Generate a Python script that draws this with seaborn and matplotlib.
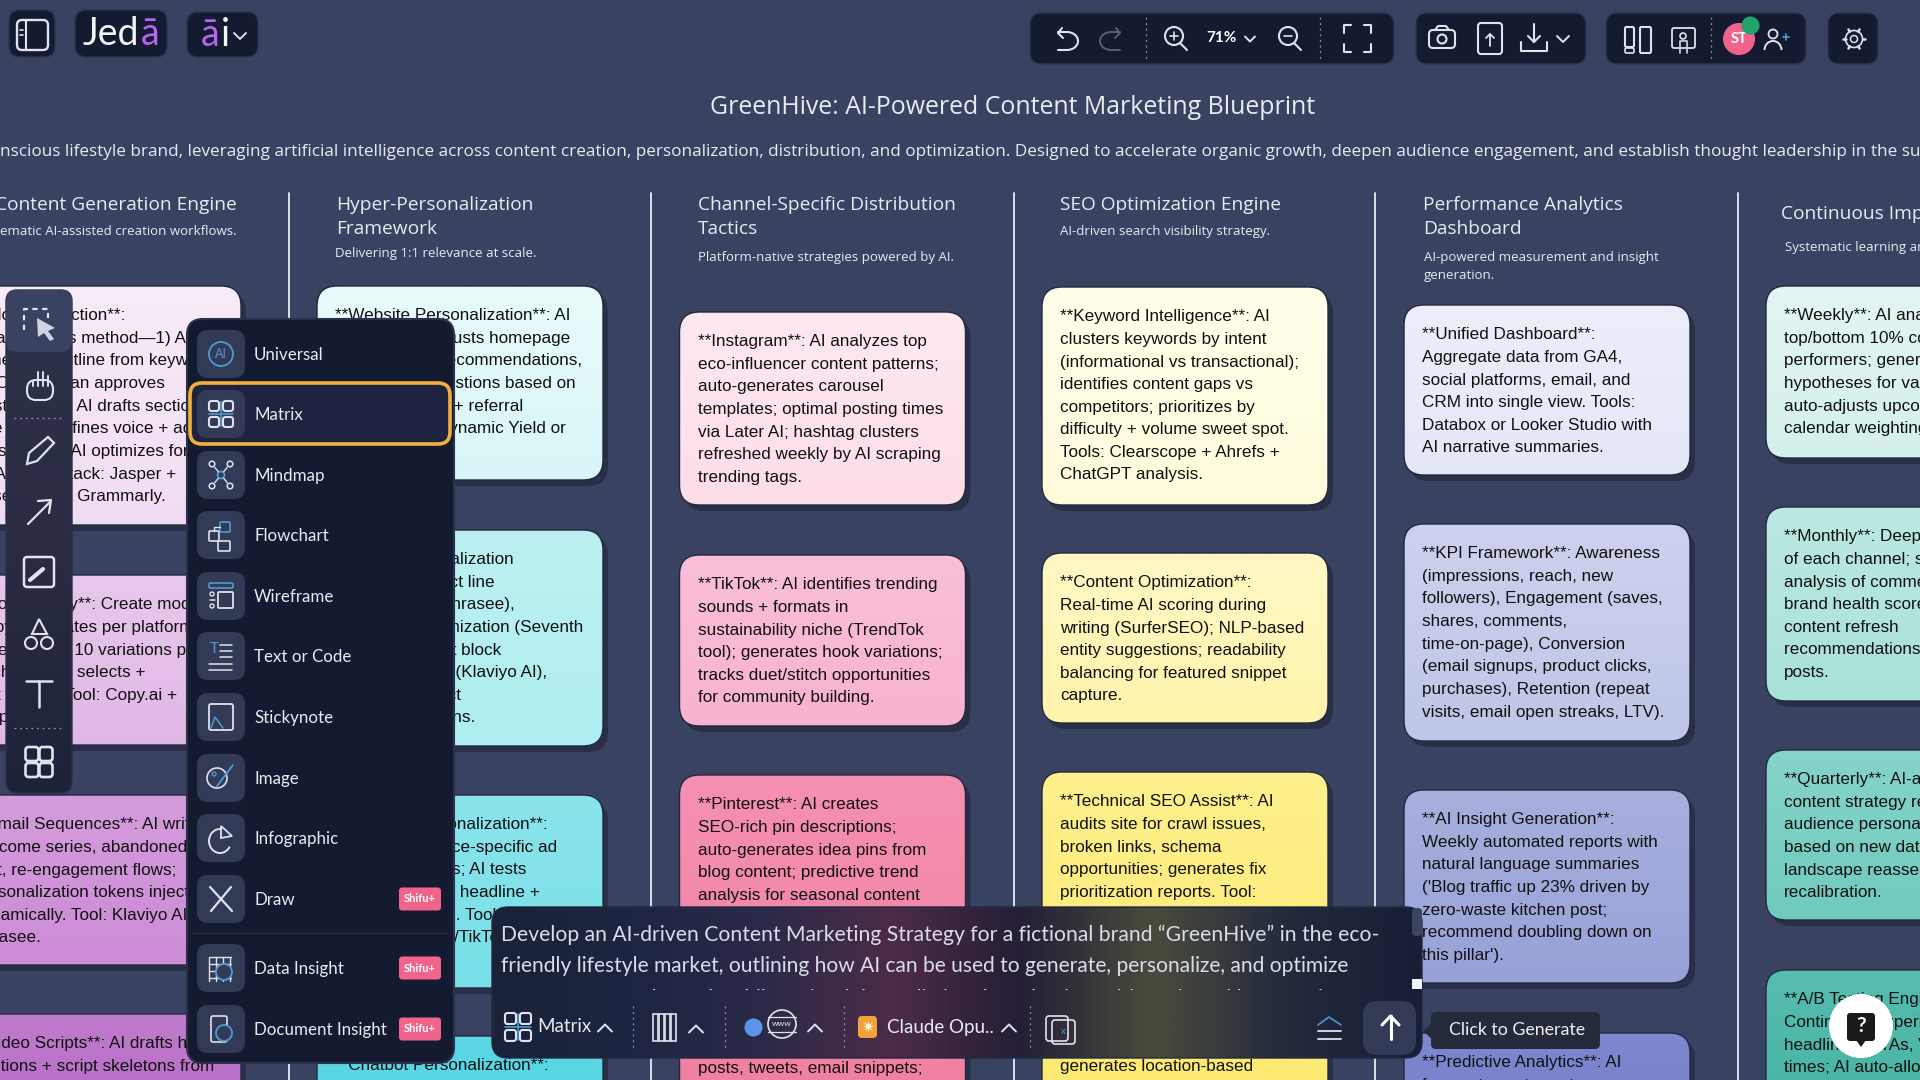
import matplotlib
matplotlib.use("Agg")
import matplotlib.pyplot as plt
import numpy as np
import seaborn as sns
from matplotlib.colors import to_rgb
from matplotlib.patches import Arc, Circle, FancyBboxPatch, Polygon, Rectangle

sns.set_theme(style="white")
plt.rcParams["patch.force_edgecolor"] = False

# ==========================================
# TEXT AND COLOURS
# ==========================================
BG = "#394260"
PANEL = "#141a30"
TILE = "#333a55"
ICON = "#dfe3ee"
BLUE = "#4d9ad6"
PINK = "#f0648c"

TITLE = "GreenHive: AI-Powered Content Marketing Blueprint"
SUBTITLE = (
    "nscious lifestyle brand, leveraging artificial intelligence across content creation, "
    "personalization, distribution, and optimization. Designed to accelerate organic growth, "
    "deepen audience engagement, and establish thought leadership in the sustainable living space."
)

COLUMN_HEADERS = [
    ["Content Generation Engine"],
    ["Hyper-Personalization", "Framework"],
    ["Channel-Specific Distribution", "Tactics"],
    ["SEO Optimization Engine"],
    ["Performance Analytics", "Dashboard"],
    ["Continuous Improvement Loop"],
]
COLUMN_NOTES = [
    ["Systematic AI-assisted creation workflows."],
    ["Delivering 1:1 relevance at scale."],
    ["Platform-native strategies powered by AI."],
    ["AI-driven search visibility strategy."],
    ["AI-powered measurement and insight", "generation."],
    ["Systematic learning and adaptation."],
]

PILLAR_0 = [
    ["**Blog Production**:", "Pillar-clusters method—1) AI", "generates outline from keywords;",
     "SEO fit; human approves", "Post sign-off; AI drafts sections;", "The Editor refines voice + adds",
     "personal tip; AI optimizes for", "CTAs. Tool stack: Jasper +", "frase.io, then Grammarly."],
    ["**Social Copy**: Create moderate", "Copy: templates per platform;", "regenerating 10 variations per",
     "each post; AI selects +", "test winner. Tool: Copy.ai +", "Jasper."],
    ["**Email Sequences**: AI writes", "welcome series, abandoned", "cart, re-engagement flows;",
     "personalization tokens injected", "dynamically. Tool: Klaviyo AI +", "Phrasee."],
    ["**Video Scripts**: AI drafts hooks", "captions + script skeletons from"],
]
PILLAR_1 = [
    ["**Website Personalization**: AI", "dynamically adjusts homepage", "hero, product recommendations,",
     "plus blog suggestions based on", "visitor histories + referral", "source. Tool: Dynamic Yield or",
     "Optimonk."],
    ["**Email Personalization", "**: Smart subject line", "AI variations (Phrasee),",
     "Send-time optimization (Seventh", "Sense); product block", "personalization (Klaviyo AI),",
     "dynamic product", "recommendations."],
    ["**Paid Ad Personalization**:", "Creates audience-specific ad", "creative variants; AI tests",
     "combinations of headline +", "image creatives. Tool: Madgicx", "(Meta + Google/TikTok) with creative AI."],
    ["**Chatbot Personalization**:"],
]
PILLAR_2 = [
    ["**Instagram**: AI analyzes top", "eco-influencer content patterns;", "auto-generates carousel",
     "templates; optimal posting times", "via Later AI; hashtag clusters", "refreshed weekly by AI scraping",
     "trending tags."],
    ["**TikTok**: AI identifies trending", "sounds + formats in", "sustainability niche (TrendTok",
     "tool); generates hook variations;", "tracks duet/stitch opportunities", "for community building."],
    ["**Pinterest**: AI creates", "SEO-rich pin descriptions;", "auto-generates idea pins from",
     "blog content; predictive trend", "analysis for seasonal content"],
]
PILLAR_3 = [
    ["**Keyword Intelligence**: AI", "clusters keywords by intent", "(informational vs transactional);",
     "identifies content gaps vs", "competitors; prioritizes by", "difficulty + volume sweet spot.",
     "Tools: Clearscope + Ahrefs +", "ChatGPT analysis."],
    ["**Content Optimization**:", "Real-time AI scoring during", "writing (SurferSEO); NLP-based",
     "entity suggestions; readability", "balancing for featured snippet", "capture."],
    ["**Technical SEO Assist**: AI", "audits site for crawl issues,", "broken links, schema",
     "opportunities; generates fix", "prioritization reports. Tool:"],
]
PILLAR_4 = [
    ["**Unified Dashboard**:", "Aggregate data from GA4,", "social platforms, email, and",
     "CRM into single view. Tools:", "Databox or Looker Studio with", "AI narrative summaries."],
    ["**KPI Framework**: Awareness", "(impressions, reach, new", "followers), Engagement (saves,",
     "shares, comments,", "time-on-page), Conversion", "(email signups, product clicks,",
     "purchases), Retention (repeat", "visits, email open streaks, LTV)."],
    ["**AI Insight Generation**:", "Weekly automated reports with", "natural language summaries",
     "('Blog traffic up 23% driven by", "zero-waste kitchen post;", "recommend doubling down on",
     "this pillar')."],
    ["**Predictive Analytics**: AI", "forecasts next-quarter"],
]
PILLAR_5 = [
    ["**Weekly**: AI analyzes", "top/bottom 10% content", "performers; generates",
     "hypotheses for variation;", "auto-adjusts upcoming", "calendar weighting."],
    ["**Monthly**: Deep dive", "of each channel; sentiment", "analysis of comments;",
     "brand health score;", "content refresh", "recommendations for top", "posts."],
    ["**Quarterly**: AI-assisted", "content strategy review;", "audience persona updates",
     "based on new data;", "landscape reassessment;", "recalibration."],
    ["**A/B Testing Engine**:", "Continuous experiments on", "headlines, CTAs, Visuals. As,",
     "times; AI auto-allocates"],
]
PILLARS = [PILLAR_0, PILLAR_1, PILLAR_2, PILLAR_3, PILLAR_4, PILLAR_5]

# top and bottom shade of every card
CARD_SHADES = [
    [("#f8ecf8", "#f0dcf2"), ("#e8c8ec", "#e0b8e6"), ("#d49cdc", "#cc8cd6"), ("#c07ccc", "#b060c4")],
    [("#e9fbfb", "#d8f6f7"), ("#bcf0f2", "#aeeef0"), ("#8ae4ec", "#78dfe8"), ("#5cd8e6", "#4cd0e0")],
    [("#fee9ee", "#fddde6"), ("#fabfd8", "#f8b2d0"), ("#f590b0", "#f07c9e")],
    [("#ffffea", "#fffcdc"), ("#fef8c4", "#fef4ac"), ("#fef08c", "#fde86a")],
    [("#eceefa", "#e4e7f6"), ("#cdd1ee", "#bfc6e6"), ("#a8afdd", "#98a2d8"), ("#7d88cf", "#6e7ac8")],
    [("#e4f5f2", "#d4f0ea"), ("#bce9e2", "#a8e1d8"), ("#86d4ca", "#70cabd"), ("#56bdaf", "#40ae9f")],
]

MENU_LABELS = ["Universal", "Matrix", "Mindmap", "Flowchart", "Wireframe", "Text or Code",
               "Stickynote", "Image", "Infographic", "Draw", "Data Insight", "Document Insight"]
SHIFU_LABELS = ["Draw", "Data Insight", "Document Insight"]
PROMPT_LINES = [
    "Develop an AI-driven Content Marketing Strategy for a fictional brand “GreenHive” in the eco-",
    "friendly lifestyle market, outlining how AI can be used to generate, personalize, and optimize",
    "content across channels while maintaining a distinct brand voice, with tools and key metrics",
]
BAR_BLEND = ["#1a2239", "#1d2540", "#2a2a48", "#4c2b48", "#241f36", "#4a4b3c", "#232a3c", "#181e36"]

# layout, in screenshot pixels
COLUMN_X = [-45, 317, 679.5, 1042, 1404, 1766]
CARD_SPANS = [
    [(286, 525), (575, 745), (795, 965), (1014, 1180)],
    [(286, 480), (530, 746), (795, 988), (1036, 1180)],
    [(312, 505), (555, 726), (775, 1180)],
    [(287, 505), (553, 723), (772, 1180)],
    [(305, 475), (524, 741), (790, 983), (1033, 1180)],
    [(286, 458), (507, 701), (750, 920), (970, 1180)],
]
DIVIDER_X = [289, 651, 1014, 1375, 1738]
HEADER_X = [-5, 336, 698, 1060, 1423, 1781]
HEADER_Y = [205, 205, 205, 205, 205, 214]
NOTE_X = [-25, 335, 698, 1060, 1424, 1785]
NOTE_Y = [232, 254, 257, 232, 257, 248]
MENU_Y = [354, 414, 475, 535, 596, 656, 717, 778, 838, 899, 968, 1029]

CARD_FONT = ["Liberation Sans"]
HEAD_FONT = ["Open Sans"]
UI_FONT = ["Lato"]
CARD_SIZE = 12.35

fig = plt.figure(figsize=(19.2, 10.8), dpi=100, facecolor=BG)
ax = fig.add_axes([0, 0, 1, 1])
ax.set_facecolor(BG)
ax.set_axis_off()


def box(x0, y0, x1, y1, r, fc, ec="none", lw=0.0, z=1.0):
    patch = FancyBboxPatch((x0 + r, y0 + r), x1 - x0 - 2 * r, y1 - y0 - 2 * r,
                           boxstyle=f"round,pad={r},rounding_size={r}",
                           fc=fc, ec=ec, lw=lw, zorder=z)
    ax.add_patch(patch)
    return patch


def gradient(x0, y0, x1, y1, r, colors, z=1.0, horizontal=False, ec="none", lw=0.0):
    patch = box(x0, y0, x1, y1, r, "none", ec=ec, lw=lw, z=z + 0.01)
    ramp = np.array([to_rgb(c) for c in sns.blend_palette(colors, 128)])
    img = ramp[np.newaxis, :, :] if horizontal else ramp[:, np.newaxis, :]
    im = ax.imshow(img, extent=(x0, x1, y1, y0), aspect="auto", zorder=z, interpolation="bilinear")
    clip = box(x0, y0, x1, y1, r, "none", z=z)
    im.set_clip_path(clip)
    return patch


def label(x, y, s, size, color="#e8ebf2", family=UI_FONT, ha="left", z=5.0, **kw):
    return ax.text(x, y, s, fontsize=size, color=color, family=family, ha=ha, va="center",
                   zorder=z, clip_on=True, **kw)


def stroke(xs, ys, z=6.0, lw=1.5, color=ICON, **kw):
    ax.plot(xs, ys, color=color, lw=lw, zorder=z, solid_capstyle="round", **kw)


def ring(x, y, r, z=6.0, lw=1.5, color=ICON):
    ax.add_patch(Circle((x, y), r, fc="none", ec=color, lw=lw, zorder=z))


def caret(x, y, up=False, size=5, color=ICON, z=6.0):
    d = -size if up else size
    stroke([x - size, x, x + size], [y - d / 2, y + d / 2, y - d / 2], z=z, color=color, lw=1.4)


def dotted(x, y0, y1, z=6.0):
    stroke([x, x], [y0, y1], z=z, lw=0.9, color="#8d93a8", linestyle=(0, (1.5, 3)))


def square(x0, y0, x1, y1, r=2, z=6.0, lw=1.5, color=ICON):
    box(x0, y0, x1, y1, r, "none", ec=color, lw=lw, z=z)


def icon_matrix(cx, cy, z=6.0, s=12):
    for dx in (-s / 2 - 1, s / 2 + 1):
        for dy in (-s / 2 - 2, s / 2 + 2):
            square(cx + dx - s / 2 + 1, cy + dy - s / 2 + 1, cx + dx + s / 2 - 1, cy + dy + s / 2 - 1,
                   r=2.5, z=z)
    stroke([cx - s, cx + s], [cy, cy], z=z, color=BLUE, lw=1.2)
    stroke([cx, cx], [cy - s, cy + s], z=z, color=BLUE, lw=1.2)


# ==========================================
# BOARD: TITLE, COLUMNS AND CARDS
# ==========================================
label(1013, 108, TITLE, 17.9, family=HEAD_FONT, ha="center", z=3)
label(0, 152, SUBTITLE, 12.33, family=HEAD_FONT, z=3)

for x in DIVIDER_X:
    sns.lineplot(x=[x, x], y=[193, 1080], ax=ax, color="#dde0e8", lw=1.4, legend=False,
                 estimator=None, sort=False, zorder=1)

for col, lines in enumerate(COLUMN_HEADERS):
    for i, line in enumerate(lines):
        label(HEADER_X[col], HEADER_Y[col] + i * 24.5, line, 13.8, family=HEAD_FONT, z=3)
for col, lines in enumerate(COLUMN_NOTES):
    for i, line in enumerate(lines):
        label(NOTE_X[col], NOTE_Y[col] + i * 18, line, 9.5, family=HEAD_FONT, z=3)

for col, cards in enumerate(PILLARS):
    x0 = COLUMN_X[col]
    for row, lines in enumerate(cards):
        top, bottom = CARD_SPANS[col][row]
        box(x0 + 5, top + 6, x0 + 291, bottom + 6, 20, "#292f47", z=1.5)
        gradient(x0, top, x0 + 286, bottom, 20, CARD_SHADES[col][row], z=2, ec="#232840", lw=1.0)
        for i, line in enumerate(lines):
            label(x0 + 18, top + 29.8 + i * 22.6, line, CARD_SIZE, color="#111111", family=CARD_FONT, z=3)

# fragments below the prompt bar that belong to cards running off the picture
label(698, 1068.5, "posts, tweets, email snippets;", CARD_SIZE, color="#111111", family=CARD_FONT, z=3)
label(1060, 1067, "generates location-based", CARD_SIZE, color="#111111", family=CARD_FONT, z=3)

# ==========================================
# TOP BAR
# ==========================================
box(9, 10, 55, 57, 11, PANEL, ec="#2c3350", lw=1, z=4)
square(17, 20, 48, 50, r=5, lw=1.7)
stroke([26, 26], [21, 49], lw=1.5)
stroke([20, 23], [30, 30], lw=1.2)
stroke([20, 23], [35, 35], lw=1.2)

box(75, 10, 167, 57, 11, PANEL, ec="#2c3350", lw=1, z=4)
label(83, 34, "Jed", 27, color="#f2f4f8")
label(141, 34, "ā", 27, color="#b565f0")

box(187, 12, 258, 57, 11, PANEL, ec="#2c3350", lw=1, z=4)
label(201, 35, "ā", 27, color="#b565f0")
label(221, 35, "i", 27, color="#f2f4f8")
caret(240, 36, size=6)

for x0, x1 in [(1030, 1394), (1416, 1586), (1606, 1806), (1828, 1878)]:
    box(x0, 13, x1, 64, 11, PANEL, ec="#2f3650", lw=1, z=4)

# undo, redo
stroke([1062, 1058, 1063], [28, 33, 38], lw=1.5)
ax.add_patch(Arc((1067, 41), 22, 18, theta1=-90, theta2=90, ec=ICON, lw=1.5, zorder=6))
stroke([1058, 1067], [32, 32], lw=1.5)
stroke([1058, 1067], [50, 50], lw=1.5)
stroke([1116, 1120, 1115], [28, 33, 38], lw=1.3, color="#5d647c")
ax.add_patch(Arc((1111, 41), 22, 18, theta1=90, theta2=270, ec="#5d647c", lw=1.3, zorder=6))
stroke([1111, 1120], [32, 32], lw=1.3, color="#5d647c")
stroke([1111, 1120], [50, 50], lw=1.3, color="#5d647c")
dotted(1145.5, 17, 60)
dotted(1319.5, 17, 60)

# zoom controls
ring(1174, 36, 9)
stroke([1170, 1178], [36, 36], lw=1.2)
stroke([1174, 1174], [32, 40], lw=1.2)
stroke([1180, 1187], [43, 50])
label(1206, 38, "71%", 11, color="#ffffff", fontweight="bold")
caret(1250, 39)
ring(1288, 36, 9)
stroke([1284, 1292], [36, 36], lw=1.2)
stroke([1294, 1301], [43, 50])

# fullscreen brackets
for sx, xe in [(1344, 1351), (1371, 1364)]:
    stroke([xe, sx, sx], [25, 25, 33])
    stroke([xe, sx, sx], [52, 52, 44])

# camera, upload, download
square(1429, 30, 1455, 48, r=4)
ring(1442, 39, 4.5)
stroke([1435, 1438, 1446, 1449], [30, 26, 26, 30])
square(1478, 23, 1502, 54, r=3)
stroke([1490, 1490], [46, 34], lw=1.3)
stroke([1486, 1490, 1494], [38, 34, 38], lw=1.3)
stroke([1534, 1534], [24, 42], lw=1.5)
stroke([1528, 1534, 1540], [36, 42, 36], lw=1.5)
stroke([1521, 1521, 1547, 1547], [42, 51, 51, 42], lw=1.5)
caret(1563, 39, size=6)

# layout, present, avatar, invite
square(1625, 27, 1634, 47, r=1.5)
square(1625, 48, 1634, 53, r=1.5, lw=1.2)
square(1640, 27, 1651, 53, r=1.5)
square(1672, 28, 1695, 48, r=2, lw=1.3)
ring(1683, 36, 3, lw=1.2)
stroke([1680, 1680, 1687, 1687], [53, 41, 41, 53], lw=1.3, color="#c8ccd8")
dotted(1711, 17, 60)
ax.add_patch(Circle((1739, 39), 16, fc=PINK, zorder=6))
label(1739, 39, "ST", 10.5, color="#ffffff", ha="center", fontweight="bold", z=7)
ring(1773, 34, 4.5, lw=1.3)
ax.add_patch(Arc((1773, 50), 17, 18, theta1=180, theta2=360, ec=ICON, lw=1.4, zorder=6))
stroke([1783, 1789], [37, 37], lw=1.2, color=BLUE)
stroke([1786, 1786], [34, 40], lw=1.2, color=BLUE)

# gear
ring(1854, 39, 3.5, lw=1.1)
ring(1854, 39, 8.5, lw=1.2)
for ang in np.deg2rad(np.arange(0, 360, 60)):
    stroke([1854 + 8.5 * np.cos(ang), 1854 + 11 * np.cos(ang)], [39 + 8.5 * np.sin(ang), 39 + 11 * np.sin(ang)], lw=1.8)

# ==========================================
# LEFT TOOLBAR
# ==========================================
gradient(6, 290, 72, 793, 11, ["#2e324a", "#292c43", "#1e2238"], z=4, ec="#2b3049", lw=1)
box(6, 290, 72, 352, 11, "#394260", z=4.5)
stroke([24, 24, 48, 48], [330, 309, 309, 318], lw=1.6, linestyle=(0, (2.4, 2)))
ax.add_patch(Polygon([[37, 318], [55, 328], [48, 331], [54, 339], [50, 341], [44, 333], [38, 337]],
                     fc="#cfd4e2", zorder=6))

# hand
box(27, 380, 53, 400, 9, "none", ec=ICON, lw=1.5, z=6)
for dx, y_top in [(-7, 381), (-2, 372), (3, 372), (8, 376)]:
    stroke([40 + dx, 40 + dx], [y_top, 386], lw=1.4)

stroke([14, 64], [418, 418], lw=0.9, color="#8d93a8", linestyle=(0, (1.5, 3)))

# pencil
ax.add_patch(Polygon([[27, 464], [29, 453], [48, 437], [54, 443], [37, 461]], fc="none", ec=ICON, lw=1.6, zorder=6))
# arrow
stroke([28, 50], [524, 502], lw=1.6)
stroke([38, 51, 49], [501, 500, 513], lw=1.6)
# sticky
square(24, 557, 54, 587, r=3, lw=1.8)
stroke([30, 43], [580, 569], lw=3)
# shapes
ax.add_patch(Polygon([[39, 619], [32, 634], [47, 634]], fc="none", ec=ICON, lw=1.5, zorder=6))
ring(31, 643, 6)
ring(47, 643, 6)
# text tool
stroke([26, 52], [681, 681], lw=1.8)
stroke([39, 39], [681, 707], lw=1.8)
stroke([14, 64], [728, 728], lw=0.9, color="#8d93a8", linestyle=(0, (1.5, 3)))
# grid
for gx in (32, 46):
    for gy in (754, 770):
        square(gx - 6.5, gy - 7, gx + 6.5, gy + 7, r=3, lw=1.9)

# ==========================================
# DIAGRAM TYPE MENU
# ==========================================
box(187, 319, 454, 1063, 16, PANEL, ec="#2b3149", lw=1.5, z=4)
box(190, 383, 450, 444, 12, "#1e2440", ec="#f0b13c", lw=2.6, z=4.2)
stroke([192, 448], [933, 933], z=4.2, lw=1, color="#252b43")

for name, y in zip(MENU_LABELS, MENU_Y):
    box(197, y - 24, 245, y + 24, 11, TILE, z=4.4)
    label(254, y + 1, name, 12.2, color="#e8ebf2")
    if name in SHIFU_LABELS:
        box(399, y - 11.5, 441, y + 11.5, 3, PINK, z=4.6)
        label(420, y, "Shifu+", 8, color="#ffffff", ha="center", fontweight="bold")

cx = 221
# universal
ring(cx, 354, 12, color=BLUE, lw=1.3)
label(cx, 353.5, "AI", 9, color=BLUE, ha="center", z=6)
icon_matrix(cx, 414)
# mindmap
ring(cx, 475, 3.5, color=BLUE, lw=1.3)
for dx in (-9, 9):
    for dy in (-11, 11):
        ring(cx + dx, 475 + dy, 2.8, lw=1.1)
        stroke([cx + dx * 0.7, cx + dx * 0.3], [475 + dy * 0.7, 475 + dy * 0.3], lw=1)
# flowchart
square(cx - 1, 522, cx + 9, 532, r=1, lw=1.2, color=BLUE)
square(cx - 12, 531, cx - 2, 541, r=1, lw=1.2)
square(cx - 3, 541, cx + 9, 551, r=1, lw=1.2)
stroke([cx - 7, cx - 7, cx - 1], [531, 527, 527], lw=1)
# wireframe
square(cx - 12, 583, cx + 12, 588, r=1.5, color=BLUE, lw=1.2)
square(cx - 3, 592, cx + 12, 608, r=1, lw=1.3)
ring(cx - 9, 594, 2, lw=1)
ring(cx - 9, 606, 2, lw=1)
stroke([cx - 11, cx - 6], [600, 600], lw=1.1)
# text or code
label(cx - 7, 649, "T", 11, color=BLUE, ha="center", z=6)
for dy, start in [(-11, cx - 1), (-5, cx - 1), (1, cx - 1), (8, cx - 12), (14, cx - 12)]:
    stroke([start, cx + 11], [656 + dy, 656 + dy], lw=1.1)
# sticky
square(cx - 12, 704, cx + 12, 730, r=2, lw=1.3)
stroke([cx - 10, cx - 6, cx + 2], [728, 717, 728], lw=1.1, color=BLUE)
# image
ring(cx - 4, 778, 10, lw=1.2)
stroke([cx - 4, cx + 12], [786, 765], lw=1.3, color=BLUE)
ring(cx - 7, 774, 2, lw=1, color=BLUE)
# infographic
ax.add_patch(Arc((cx - 1, 841), 22, 24, theta1=30, theta2=280, ec=ICON, lw=1.4, zorder=6))
ax.add_patch(Polygon([[cx, 826], [cx + 11, 836], [cx, 838]], fc="none", ec=ICON, lw=1.3, zorder=6))
# draw
stroke([cx - 11, cx + 11], [887, 911], lw=1.6)
stroke([cx + 10, cx - 10], [887, 911], lw=1.6)
# data insight
for offset in (-12, -5, 2, 9):
    stroke([cx + offset, cx + offset], [957, 981], lw=1)
for offset in (-11, -4, 3, 10):
    stroke([cx - 12, cx + 10], [968 + offset, 968 + offset], lw=1)
ax.add_patch(Circle((cx + 3, 972), 8, fc=TILE, ec=BLUE, lw=1.3, zorder=6.1))
# document insight
square(cx - 10, 1016, cx + 6, 1042, r=2, lw=1.2)
ax.add_patch(Circle((cx + 3, 1033), 8, fc=TILE, ec=BLUE, lw=1.3, zorder=6.1))

# ==========================================
# PROMPT BAR
# ==========================================
gradient(492, 907, 1422, 1058, 16, BAR_BLEND, z=4, horizontal=True, ec="#23293f", lw=1)
label(501, 935, PROMPT_LINES[0], 15.2, color="#d9ddea")
label(501, 966, PROMPT_LINES[1], 15.15, color="#d9ddea")
third = label(501, 999, PROMPT_LINES[2], 15.15, color="#d9ddea")
third.set_clip_path(Rectangle((492, 988), 920, 2, transform=ax.transData))

box(1412, 908, 1422, 936, 4, "#3d4460", z=4.5)
ax.add_patch(Rectangle((1412, 979), 10, 10, fc="#f0f2f7", zorder=4.5))

icon_matrix(518, 1027, s=13)
label(537, 1027, "Matrix", 13.5)
caret(605, 1028, up=True, size=7)
dotted(632.5, 1006, 1048)
for bar_x in (653, 659, 665, 671):
    ax.add_patch(Rectangle((bar_x, 1014), 5, 27, fc="none", ec=ICON, lw=1.2, zorder=6))
caret(696, 1029, up=True, size=7)
dotted(725, 1006, 1048)
sns.scatterplot(x=[753], y=[1027], ax=ax, color="#5b93e6", s=170, legend=False, zorder=6, linewidth=0)
ring(782, 1024, 14, lw=1.2)
label(782, 1024, "www", 6, ha="center", z=7)
stroke([768, 796], [1017, 1017], lw=0.9)
stroke([768, 796], [1032, 1032], lw=0.9)
caret(815, 1028, up=True, size=7)
dotted(844, 1006, 1048)
box(858, 1016, 877, 1038, 4, "#f2a23a", z=6)
label(867.5, 1027, "✷", 11, color="#fff6dc", family=["DejaVu Sans"], ha="center", z=7)
label(887, 1027, "Claude Opu..", 13.5)
caret(1009, 1028, up=True, size=7)
dotted(1030, 1006, 1048)
square(1046, 1016, 1068, 1041, r=3, lw=1.2)
square(1052, 1020, 1075, 1044, r=3, lw=1.2)
label(1063, 1032, "x", 7, color=BLUE, ha="center", z=7)
stroke([1318, 1329, 1341], [1025, 1017, 1025], lw=1.2, color=BLUE)
stroke([1318, 1341], [1031, 1031], lw=1.3)
stroke([1318, 1341], [1039, 1039], lw=1.3)
box(1363, 1001, 1416, 1055, 14, TILE, z=5)
stroke([1390.5, 1390.5], [1016, 1039], lw=2.2, color="#ffffff")
stroke([1382, 1390.5, 1399], [1025, 1016, 1025], lw=2.2, color="#ffffff")

# tooltip and help button
box(1431, 1012, 1600, 1049, 5, "#252a3a", z=5)
ax.add_patch(Polygon([[1423, 1031], [1432, 1023], [1432, 1039]], fc="#252a3a", zorder=5))
label(1517, 1030, "Click to Generate", 12.8, color="#eef0f5", ha="center", z=6)
ax.add_patch(Circle((1861, 1026), 32, fc="#ffffff", zorder=6))
box(1847, 1013, 1875, 1041, 3, "#1a1a1a", z=6.2)
ax.add_patch(Polygon([[1856, 1040], [1866, 1040], [1861, 1047]], fc="#1a1a1a", zorder=6.2))
label(1861, 1026, "?", 15, color="#ffffff", ha="center", fontweight="bold", z=7)

# status dot on the avatar
sns.scatterplot(x=[1750], y=[25], ax=ax, color="#1fa36b", s=170, legend=False, zorder=7, linewidth=0)

ax.set_xlim(0, 1920)
ax.set_ylim(1080, 0)
fig.savefig("out.png", dpi=100, facecolor=BG)
